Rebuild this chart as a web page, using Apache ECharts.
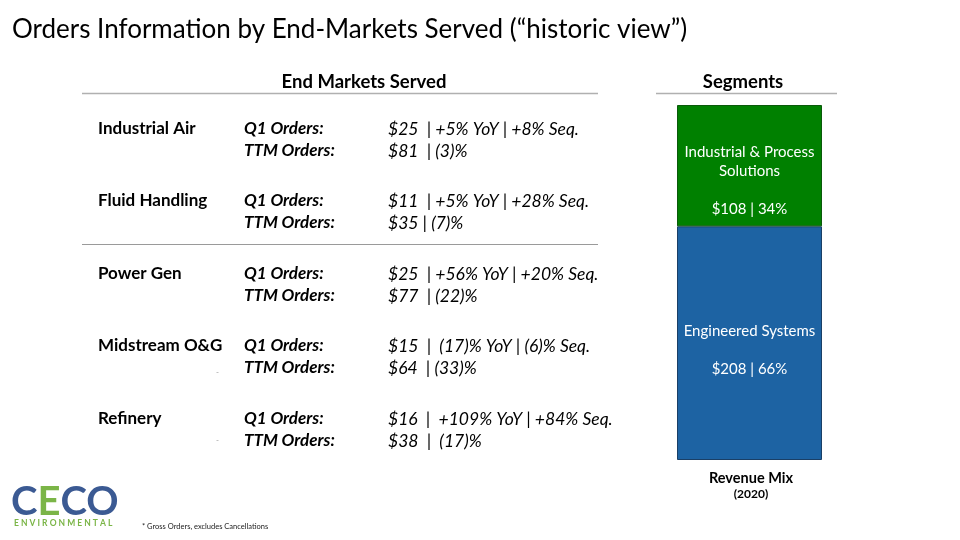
<!DOCTYPE html>
<html><head><meta charset="utf-8">
<script src="https://cdn.jsdelivr.net/npm/echarts@6/dist/echarts.min.js"></script>
<style>html,body{margin:0;padding:0;background:#fff}#c{width:960px;height:540px}</style>
</head><body><div id="c"></div>
<script>
// ---- data ----
const markets = ['Industrial Air', 'Fluid Handling', 'Power Gen', 'Midstream O&G', 'Refinery'];
const q1Orders = ['$25  | +5% YoY | +8% Seq.', '$11  | +5% YoY | +28% Seq.', '$25  | +56% YoY | +20% Seq.', '$15  |  (17)% YoY | (6)% Seq.', '$16  |  +109% YoY | +84% Seq.'];
const ttmOrders = ['$81  | (3)%', '$35 | (7)%', '$77  | (22)%', '$64  | (33)%', '$38  |  (17)%'];
const segments = ['Engineered Systems', 'Industrial & Process\nSolutions'];
const segmentRevenue = [208, 108];
const segmentShare = ['66%', '34%'];
const segmentColors = ['#1d63a3', '#008000'];

const F = 'Lato, "Noto Sans", sans-serif';
const chart = echarts.init(document.getElementById('c'), null, {renderer: 'canvas'});
const total = segmentRevenue.reduce((a, b) => a + b, 0);

const rowY = [129, 201, 274, 346, 419];
const g = [];
function txt(x, y, text, font, fill, align) {
  g.push({type: 'text', x: x, y: y, silent: true,
    style: {text: text, font: font, fill: fill || '#000', align: align || 'left', verticalAlign: 'middle'}});
}
txt(12, 30, 'Orders Information by End-Markets Served (\u201chistoric view\u201d)', '26px ' + F);
txt(364, 82, 'End Markets Served', 'bold 18.5px ' + F, '#000', 'center');
txt(743, 82, 'Segments', 'bold 18.5px ' + F, '#000', 'center');
g.push({type: 'line', shape: {x1: 82, y1: 93.5, x2: 598, y2: 93.5}, style: {stroke: '#b0b0b0', lineWidth: 1.5}});
g.push({type: 'line', shape: {x1: 656, y1: 93.5, x2: 837, y2: 93.5}, style: {stroke: '#b0b0b0', lineWidth: 1.5}});
g.push({type: 'line', shape: {x1: 82, y1: 244.5, x2: 598, y2: 244.5}, style: {stroke: '#9a9a9a', lineWidth: 1}});
markets.forEach((m, i) => {
  const y = rowY[i];
  txt(98, y, m, 'bold 17px ' + F);
  txt(244, y, 'Q1 Orders:', 'italic bold 17px ' + F);
  txt(244, y + 22, 'TTM Orders:', 'italic bold 17px ' + F);
  txt(388, y, q1Orders[i], 'italic 17.5px ' + F);
  txt(388, y + 22, ttmOrders[i], 'italic 17.5px ' + F);
});
txt(216, 372, '-', '8px ' + F, '#999');
txt(216, 440, '-', '8px ' + F, '#999');
txt(751, 478, 'Revenue Mix', 'bold 14.5px ' + F, '#000', 'center');
txt(751, 494, '(2020)', 'bold 12px ' + F, '#000', 'center');
txt(142, 527, '* Gross Orders, excludes Cancellations', '7.5px ' + F, '#222');
// logo
g.push({type: 'text', x: 11, y: 502, style: {
  text: '{b|C}{g|E}{b|CO}', verticalAlign: 'middle',
  rich: {b: {font: 'bold 40px ' + F, fill: '#3b5a93'}, g: {font: 'bold 40px ' + F, fill: '#7bb547'}}}});
txt(14, 523, 'E N V I R O N M E N T A L', 'bold 8.5px ' + F, '#7bb547');

chart.setOption({
  animation: false,
  grid: {left: 677, top: 105, width: 145, height: 355},
  xAxis: {type: 'category', data: ['2020'], show: false},
  yAxis: {type: 'value', min: 0, max: total, show: false},
  series: segments.map((s, i) => ({
    type: 'bar', stack: 'mix', barWidth: '100%', name: s,
    data: [segmentRevenue[i]],
    itemStyle: {color: segmentColors[i], borderColor: i === 0 ? '#1a3f66' : '#0a5a0a', borderWidth: 1},
    label: {show: true, position: 'inside', color: '#fff', fontFamily: F, fontSize: 15, lineHeight: 19,
      offset: [0, i === 0 ? 7 : 15],
      formatter: s + '\n\n$' + segmentRevenue[i] + ' | ' + segmentShare[i]}
  })),
  graphic: g
});
</script></body></html>
